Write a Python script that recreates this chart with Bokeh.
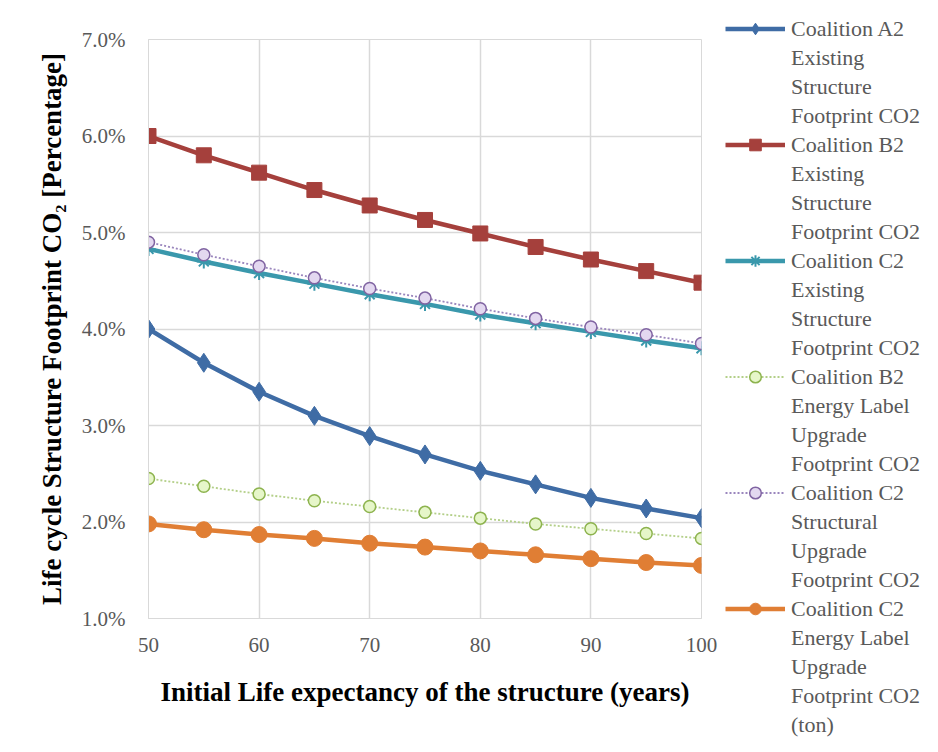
from bokeh.plotting import figure
from bokeh.layouts import row
from bokeh.models import Legend, LegendItem, PrintfTickFormatter, FixedTicker, Range1d
from bokeh.embed import file_html
from bokeh.resources import INLINE

years = [50, 55, 60, 65, 70, 75, 80, 85, 90, 95, 100]
a2_existing = [4.00, 3.65, 3.35, 3.10, 2.89, 2.70, 2.53, 2.39, 2.25, 2.14, 2.04]
b2_existing = [6.00, 5.80, 5.62, 5.44, 5.28, 5.13, 4.99, 4.85, 4.72, 4.60, 4.48]
c2_existing = [4.83, 4.70, 4.58, 4.47, 4.36, 4.26, 4.15, 4.06, 3.97, 3.88, 3.80]
b2_energy = [2.45, 2.37, 2.29, 2.22, 2.16, 2.10, 2.04, 1.98, 1.93, 1.88, 1.83]
c2_structural = [4.90, 4.77, 4.65, 4.53, 4.42, 4.32, 4.21, 4.11, 4.02, 3.94, 3.85]
c2_energy = [1.98, 1.92, 1.87, 1.83, 1.78, 1.74, 1.70, 1.66, 1.62, 1.58, 1.55]

labels = [
    ["Coalition A2", "Existing", "Structure", "Footprint CO2"],
    ["Coalition B2", "Existing", "Structure", "Footprint CO2"],
    ["Coalition C2", "Existing", "Structure", "Footprint CO2"],
    ["Coalition B2", "Energy Label", "Upgrade", "Footprint CO2"],
    ["Coalition C2", "Structural", "Upgrade", "Footprint CO2"],
    ["Coalition C2", "Energy Label", "Upgrade", "Footprint CO2", "(ton)"],
]

FONT = "Liberation Serif"
H = 744
MAIN_W = 721
LEG_W = 209

# series styles: (line kwargs, marker kwargs)
styles = [
    (dict(line_color="#3F6CA5", line_width=4.5),
     dict(marker="diamond", size=19, fill_color="#3F6CA5", line_color="#3F6CA5")),
    (dict(line_color="#A5403C", line_width=4.5),
     dict(marker="square", size=15, fill_color="#A5403C", line_color="#A5403C")),
    (dict(line_color="#3A98AC", line_width=4.5),
     dict(marker="asterisk", size=14, line_color="#3A98AC", line_width=2)),
    (dict(line_color="#B3CF88", line_width=1.8, line_dash="2 2"),
     dict(marker="circle", size=12, fill_color="#E6F6C9", line_color="#8DB34E", line_width=1.5)),
    (dict(line_color="#9A86BD", line_width=1.8, line_dash="2 2"),
     dict(marker="circle", size=12, fill_color="#E3D8F0", line_color="#8064A2", line_width=1.5)),
    (dict(line_color="#E07E34", line_width=4.5),
     dict(marker="circle", size=16, fill_color="#E07E34", line_color="#E07E34")),
]
series = [a2_existing, b2_existing, c2_existing, b2_energy, c2_structural, c2_energy]

p = figure(width=MAIN_W, height=H, output_backend="svg", toolbar_location=None,
           x_range=Range1d(50, 100), y_range=Range1d(1.0, 7.0),
           min_border_left=148, min_border_right=20, min_border_top=39, min_border_bottom=126)
p.frame_align = False
p.background_fill_color = "white"
p.border_fill_color = "white"
p.outline_line_color = "#d9d9d9"

for vals, (lk, mk) in zip(series, styles):
    p.line(years, vals, **lk)
    p.scatter(years, vals, **mk)

# axes
p.xaxis.ticker = FixedTicker(ticks=[50, 60, 70, 80, 90, 100])
p.yaxis.ticker = FixedTicker(ticks=[1, 2, 3, 4, 5, 6, 7])
p.yaxis.formatter = PrintfTickFormatter(format="%.1f%%")
for ax in (p.xaxis, p.yaxis):
    ax.axis_line_color = "#d9d9d9"
    ax.major_tick_line_color = None
    ax.minor_tick_line_color = None
    ax.major_label_text_font = FONT
    ax.major_label_text_font_size = "21px"
    ax.major_label_text_color = "#595959"
    ax.axis_label_text_font = FONT
    ax.axis_label_text_font_style = "bold"
    ax.axis_label_text_font_size = "27px"
    ax.axis_label_text_color = "black"
p.xaxis.major_label_standoff = 13
p.yaxis.major_label_standoff = 17
p.xaxis.axis_label = "Initial Life expectancy of the structure (years)"
p.yaxis.axis_label = "Life cycle Structure Footprint CO\u2082 [Percentage]"
p.xaxis.axis_label_standoff = 22
p.yaxis.axis_label_standoff = 12

p.xgrid.grid_line_color = "#d9d9d9"
p.ygrid.grid_line_color = "#d9d9d9"
p.xgrid.grid_line_width = 1.5
p.ygrid.grid_line_width = 1.5

# legend panel: a second figure whose renderers repeat the series styles
# (their data lie outside this panel's ranges, so only the legend shows)
lg = figure(width=LEG_W, height=H, output_backend="svg", toolbar_location=None,
            x_range=Range1d(0, 1), y_range=Range1d(0, 1),
            x_axis_type=None, y_axis_type=None,
            min_border_left=0, min_border_right=0, min_border_top=0, min_border_bottom=0)
lg.frame_align = False
lg.outline_line_color = None
lg.border_fill_color = "white"
lg.background_fill_color = "white"
lg.xgrid.visible = False
lg.ygrid.visible = False

blank = lg.line(years, series[0], line_alpha=0)
items = []
for vals, (lk, mk), lines in zip(series, styles, labels):
    rl = lg.line(years, vals, **lk)
    rm = lg.scatter(years, vals, **mk)
    items.append(LegendItem(label=lines[0], renderers=[rl, rm]))
    for ln in lines[1:]:
        items.append(LegendItem(label=ln, renderers=[blank]))

legend = Legend(items=items, location=(4, 5))
legend.label_text_font = FONT
legend.label_text_font_size = "22px"
legend.label_text_color = "#595959"
legend.glyph_width = 60
legend.glyph_height = 29
legend.label_height = 29
legend.spacing = 0
legend.padding = 0
legend.margin = 0
legend.label_standoff = 6
legend.border_line_color = None
legend.background_fill_alpha = 0
lg.add_layout(legend, "center")

layout = row(p, lg)
open("out.html", "w").write(file_html(layout, INLINE))
